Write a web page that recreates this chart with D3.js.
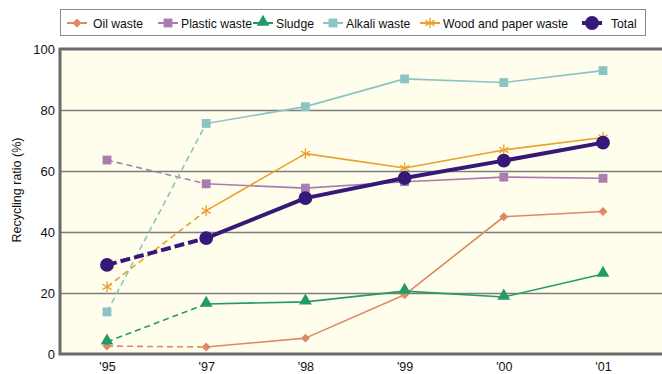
<!DOCTYPE html>
<html><head><meta charset="utf-8">
<script src="https://cdn.jsdelivr.net/npm/d3@7/dist/d3.min.js"></script>
<style>body{margin:0;background:#fff;}svg{display:block;font-family:"Liberation Sans",Arial,sans-serif;}</style>
</head><body><svg id="c" width="662" height="374"></svg>
<script>
const years = ["'95","'97","'98","'99","'00","'01"];
const yTicks = [0,20,40,60,80,100];
const oilWaste = [2.6,2.3,5.2,19.4,45.0,46.7];
const plasticWaste = [63.6,55.8,54.4,56.5,58.0,57.6];
const sludge = [4.0,16.4,17.1,20.6,18.7,26.2];
const alkaliWaste = [13.8,75.6,81.1,90.2,89.0,92.9];
const woodPaperWaste = [22.0,47.0,65.7,61.0,66.9,71.0];
const total = [29.2,38.0,51.1,57.7,63.4,69.3];
const seriesNames = ["Oil waste","Plastic waste","Sludge","Alkali waste","Wood and paper waste","Total"];

const series = [
  {name:seriesNames[0], values:oilWaste, color:"#dc8a64", sym:"diamond", w:1.6},
  {name:seriesNames[1], values:plasticWaste, color:"#a97cb2", sym:"square", w:1.6},
  {name:seriesNames[2], values:sludge, color:"#239a68", sym:"triangle", w:1.6},
  {name:seriesNames[3], values:alkaliWaste, color:"#8cc4c4", sym:"squareA", w:1.6},
  {name:seriesNames[4], values:woodPaperWaste, color:"#e8a22a", sym:"asterisk", w:1.6},
  {name:seriesNames[5], values:total, color:"#36187a", sym:"circle", w:4}
];

const svg = d3.select("#c");
const plot = {left:60, top:49, right:664, bottom:354};
const x = d3.scalePoint().domain(years).range([107,603]);
const y = d3.scaleLinear().domain([0,100]).range([plot.bottom, plot.top]);

svg.append("rect").attr("x",plot.left).attr("y",plot.top).attr("width",plot.right-plot.left).attr("height",plot.bottom-plot.top).attr("fill","#fffdec");

const yAxis = d3.axisLeft(y).tickValues(yTicks).tickSize(-(plot.right-plot.left)).tickPadding(5).tickFormat(d3.format("d"));
const gy = svg.append("g").attr("transform",`translate(${plot.left},0)`).call(yAxis);
gy.select(".domain").remove();
gy.selectAll(".tick line").attr("stroke","#7d7d7d").attr("stroke-width",1.3)
  .filter(d=>d===0||d===100).remove();
gy.selectAll(".tick text").attr("font-size","13px").attr("fill","#111").attr("font-family","'Liberation Sans',Arial,sans-serif");

svg.append("path").attr("d",`M${plot.right},${plot.top}H${plot.left}V${plot.bottom}H${plot.right}`)
  .attr("fill","none").attr("stroke","#6b6b6b").attr("stroke-width",3);

const xAxis = d3.axisBottom(x).tickSize(0).tickPadding(8);
const gx = svg.append("g").attr("transform",`translate(0,${plot.bottom})`).call(xAxis);
gx.select(".domain").remove();
gx.selectAll(".tick text").attr("font-size","12.5px").attr("fill","#111").attr("font-family","'Liberation Sans',Arial,sans-serif");

svg.append("text").attr("transform","translate(21,190) rotate(-90)").attr("text-anchor","middle")
  .attr("font-size","12.5px").attr("fill","#111").text("Recycling ratio (%)");

function symbolPath(sym){
  switch(sym){
    case "diamond": return d3.symbol().type(d3.symbolSquare).size(40)();
    case "square": return d3.symbol().type(d3.symbolSquare).size(78)();
    case "squareA": return d3.symbol().type(d3.symbolSquare).size(78)();
    case "triangle": return d3.symbol().type(d3.symbolTriangle).size(70)();
    case "asterisk": return d3.symbol().type(d3.symbolAsterisk).size(80)();
    case "circle": return d3.symbol().type(d3.symbolCircle).size(150)();
  }
}
function drawMarker(g, s){
  const p = g.append("path").attr("d",symbolPath(s.sym));
  if(s.sym==="asterisk") p.attr("fill","none").attr("stroke",s.color).attr("stroke-width",1.3);
  else p.attr("fill",s.color);
  if(s.sym==="triangle") p.attr("transform","translate(0,-1)");
  if(s.sym==="diamond") p.attr("transform","rotate(45)");
}

const line = d3.line().x(d=>x(d.k)).y(d=>y(d.v));
series.forEach(s=>{
  const pts = s.values.map((v,i)=>({k:years[i],v}));
  const g = svg.append("g");
  g.append("path").attr("d",line(pts.slice(0,2))).attr("fill","none").attr("stroke",s.color)
    .attr("stroke-width",s.w).attr("stroke-dasharray",s.w>2?"10,4":"6,4");
  g.append("path").attr("d",line(pts.slice(1))).attr("fill","none").attr("stroke",s.color)
    .attr("stroke-width",s.w).attr("stroke-linejoin","round");
  pts.forEach(p=>{
    const m = g.append("g").attr("transform",`translate(${x(p.k)},${y(p.v)})`);
    drawMarker(m,s);
  });
});

const lg = svg.append("g");
lg.append("rect").attr("x",60.5).attr("y",9.5).attr("width",585).attr("height",26).attr("fill","#fff").attr("stroke","#8a8a8a").attr("stroke-width",1);
const legendX = [77,168,263,333,430,592];
series.forEach((s,i)=>{
  const g = lg.append("g").attr("transform",`translate(${legendX[i]},23)`);
  g.append("line").attr("x1",-10).attr("x2",10).attr("stroke",s.color).attr("stroke-width",s.w>2?4:2);
  drawMarker(g,s);
  g.append("text").attr("x",s.sym==="circle"?19:(s.sym==="diamond"?16:13)).attr("y",4.5).attr("font-size","12.2px").attr("fill","#111").text(s.name);
});
</script></body></html>
